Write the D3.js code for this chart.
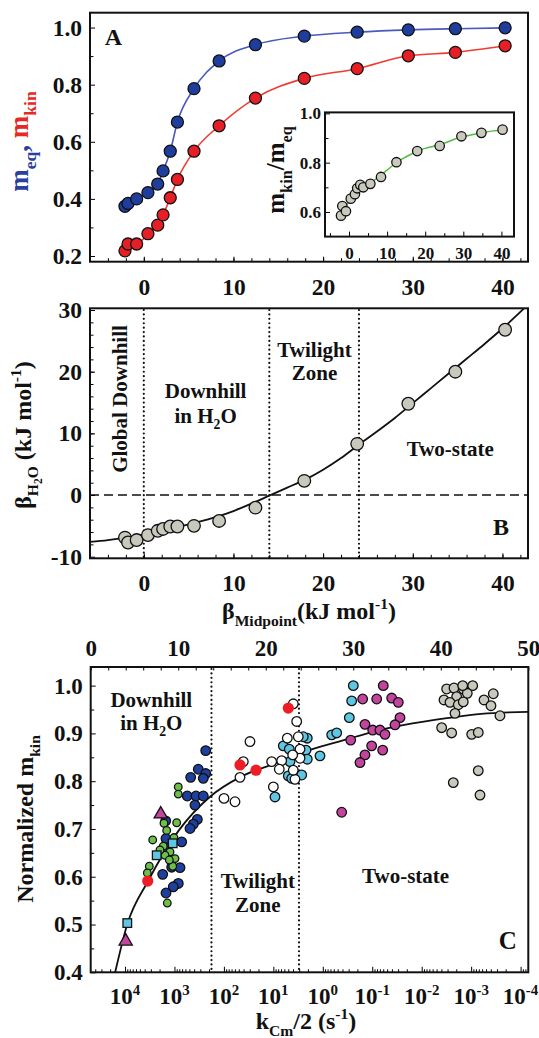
<!DOCTYPE html>
<html>
<head>
<meta charset="utf-8">
<script src="https://cdn.jsdelivr.net/npm/d3@7"></script>
<style>
  body { margin: 0; background: #fff; }
  text { font-family: "Liberation Serif", "Times New Roman", serif; font-weight: bold; fill: #111; }
</style>
</head>
<body>
<script>
// DATA - panel A / B (x = beta midpoint, kJ/mol)
var betaMid = [-2.1, -1.76, -0.8, 0.46, 1.55, 2.15, 2.95, 3.75, 5.6, 8.4, 12.45, 17.9, 23.8, 29.5, 34.75, 40.3];
var mEq = [0.374, 0.384, 0.40, 0.422, 0.452, 0.498, 0.567, 0.669, 0.786, 0.883, 0.94, 0.97, 0.984, 0.992, 0.996, 0.999];
var mKin = [0.218, 0.242, 0.242, 0.278, 0.308, 0.344, 0.404, 0.468, 0.567, 0.656, 0.753, 0.822, 0.856, 0.901, 0.913, 0.936];
var mRatio = [0.585, 0.624, 0.603, 0.654, 0.672, 0.696, 0.71, 0.70, 0.714, 0.742, 0.802, 0.847, 0.868, 0.907, 0.921, 0.934];
var ratioFitX = [-1.5, 0, 2, 4, 6, 8, 10, 12, 14, 16, 18, 20, 22, 24, 26, 28, 30, 32, 34, 36, 38, 40.5];
var ratioFitY = [0.615, 0.64, 0.675, 0.70, 0.722, 0.745, 0.77, 0.795, 0.815, 0.832, 0.847, 0.858, 0.866, 0.874, 0.885, 0.897, 0.905, 0.912, 0.918, 0.924, 0.929, 0.934];
var betaH2O = [-6.9, -7.7, -7.3, -6.5, -5.8, -5.5, -5.1, -5.1, -5.0, -4.2, -2.05, 2.3, 8.3, 14.8, 20.0, 26.8];
var fitBX = [-6, -4, -2, 0, 2, 4, 6, 8, 10, 12, 14, 16, 18, 20, 22, 24, 26, 28, 30, 32, 34, 36, 38, 40, 42, 43];
var fitBY = [-7.6, -7.3, -6.9, -6.4, -5.8, -5.1, -4.4, -3.6, -2.6, -1.4, -0.1, 1.2, 2.5, 4.1, 6.0, 8.2, 10.3, 12.5, 14.9, 17.3, 19.7, 22.1, 24.5, 27.0, 29.7, 31.1];
var zoneB = [0, 14, 24];

// DATA - panel C (x = log10 of kCm/2, y = normalized m_kin)
var zoneC = [13.8, 23.8];
var blueLogK = [2.368, 2.518, 2.368, 2.672, 2.417, 2.741, 2.565, 2.417, 2.585, 2.538, 2.619, 2.686, 3.177, 3.171, 2.854, 3.191, 3.056, 2.888, 3.238, 2.923, 3.024, 3.171];
var blueM = [0.864, 0.825, 0.816, 0.808, 0.806, 0.769, 0.769, 0.769, 0.750, 0.720, 0.710, 0.701, 0.717, 0.680, 0.673, 0.661, 0.620, 0.619, 0.605, 0.586, 0.579, 0.566];
var greenLogK = [2.923, 2.923, 2.955, 3.212, 3.440, 3.226, 3.010, 3.090, 2.989, 3.191, 3.036, 3.509, 3.549, 3.145, 3.293, 3.104, 3.157];
var greenM = [0.788, 0.773, 0.713, 0.712, 0.677, 0.664, 0.682, 0.652, 0.638, 0.645, 0.622, 0.622, 0.608, 0.545, 0.656, 0.635, 0.697];
var cyanLogK = [0.799, 0.678, 0.314, 0.340, 0.314, 0.427, 0.698, 0.664, 0.967, 0.629, 0.057, -0.180, -0.281, -0.536, -0.584, -0.617, 0.395];
var cyanM = [0.874, 0.867, 0.890, 0.865, 0.846, 0.813, 0.811, 0.841, 0.767, 0.806, 0.853, 0.897, 0.901, 0.933, 0.968, 1.0, 0.893];
var whiteLogK = [0.597, 0.528, 1.473, 1.608, 1.675, 1.998, 1.776, 1.034, 0.832, 0.880, 0.718, 0.496, 0.461, 0.461, 0.609, 1.0, 0.563, 0.597];
var whiteM = [0.962, 0.925, 0.883, 0.841, 0.808, 0.764, 0.757, 0.841, 0.843, 0.825, 0.890, 0.893, 0.867, 0.848, 0.855, 0.788, 0.804, 0.823];
var magLogK = [-1.223, -0.806, -1.09, -1.393, -1.527, -1.561, -1.460, -0.853, -1.009, -1.156, -1.257, -0.564, -0.988, -1.211, -0.853, -0.752, -0.382];
var magM = [1.0, 0.972, 0.972, 0.974, 0.965, 0.933, 0.918, 0.919, 0.907, 0.907, 0.898, 0.886, 0.874, 0.865, 0.855, 0.839, 0.735];
var grayLogK = [-2.505, -2.653, -2.841, -3.031, -2.922, -2.707, -2.451, -2.572, -2.740, -2.841, -2.673, -3.260, -3.448, -3.401, -3.583, -2.404, -2.606, -3.011, -3.144, -3.144, -2.639, -3.179, -2.829];
var grayM = [0.993, 0.995, 0.993, 1.0, 0.984, 0.977, 0.970, 0.965, 0.960, 0.966, 0.942, 0.970, 0.983, 0.958, 0.937, 0.912, 0.901, 0.898, 0.902, 0.822, 0.797, 0.771, 1.0];
var squareLogK = [3.036, 3.359, 3.954];
var squareM = [0.670, 0.645, 0.503];
var triLogK = [3.278, 3.986];
var triM = [0.731, 0.465];
var redLogK = [3.541, 1.675, 1.351, 0.698];
var redM = [0.591, 0.834, 0.823, 0.953];
var fitCLogK = [4.199, 3.956, 3.539, 2.912, 2.287, 1.663, 0.967, 0.271, -0.424, -1.116, -1.814, -2.509, -3.205, -4.156];
var fitCM = [0.40, 0.5, 0.59, 0.697, 0.767, 0.809, 0.837, 0.865, 0.886, 0.906, 0.921, 0.932, 0.941, 0.945];
var logDecades = [4, 3, 2, 1, 0, -1, -2, -3, -4];

var svg = d3.select('body').append('svg').attr('width', 539).attr('height', 1038);

// helpers
function rich(t, parts, fs) {
  var cur = 0;
  parts.forEach(function(p) {
    var off = (p.o || 0) * fs;
    t.append('tspan').attr('dy', off - cur).style('font-size', ((p.s || 1) * fs) + 'px')
      .style('fill', p.c || null).text(p.t);
    cur = off;
  });
  return t;
}
function zip(a, b) { return a.map(function(d, i) { return [d, b[i]]; }); }
function frame(x0, x1, y0, y1) {
  svg.append('rect').attr('x', x0).attr('y', y0).attr('width', x1 - x0).attr('height', y1 - y0)
    .attr('fill', 'none').attr('stroke', '#111').attr('stroke-width', 2);
}
function clip(id, x0, x1, y0, y1) {
  svg.append('clipPath').attr('id', id).append('rect')
    .attr('x', x0).attr('y', y0).attr('width', x1 - x0).attr('height', y1 - y0);
}
function leftAxis(x0, y, major, minor, fmt, fs, pad) {
  svg.append('g').attr('transform', 'translate(' + x0 + ',0)')
    .call(d3.axisLeft(y).tickValues(minor).tickSize(-3.5).tickFormat(''))
    .call(function(g) { g.select('.domain').remove(); });
  svg.append('g').attr('transform', 'translate(' + x0 + ',0)')
    .call(d3.axisLeft(y).tickValues(major).tickSize(-5).tickPadding(pad).tickFormat(fmt))
    .call(function(g) { g.select('.domain').remove(); })
    .selectAll('text').style('font-size', fs + 'px');
}
function bottomAxis(y0, x, major, minor, fmt, fs, pad) {
  svg.append('g').attr('transform', 'translate(0,' + y0 + ')')
    .call(d3.axisBottom(x).tickValues(minor).tickSize(-3.5).tickFormat(''))
    .call(function(g) { g.select('.domain').remove(); });
  svg.append('g').attr('transform', 'translate(0,' + y0 + ')')
    .call(d3.axisBottom(x).tickValues(major).tickSize(-5).tickPadding(pad).tickFormat(fmt))
    .call(function(g) { g.select('.domain').remove(); })
    .selectAll('text').style('font-size', fs + 'px');
}
function dots(data, x, y, r, fill, clipId) {
  svg.append('g').attr('clip-path', clipId ? 'url(#' + clipId + ')' : null)
    .selectAll('circle').data(data).enter().append('circle')
    .attr('cx', function(d) { return x(d[0]); })
    .attr('cy', function(d) { return y(d[1]); })
    .attr('r', r).attr('fill', fill).attr('stroke', '#111').attr('stroke-width', 1.3);
}
function fmtNum(d) { return d < 0 ? '-' + (-d) : String(d); }
var dotted = '0.01,4.4';

// ---------------- PANEL A ----------------
var xA = d3.scaleLinear().domain([-6, 42.85]).range([90, 528]);
var yA = d3.scaleLinear().domain([0.18, 1.052]).range([261.7, 12.7]);
clip('clipA', 90, 528, 12.7, 261.7);

var lineA = d3.line().x(function(d) { return xA(d[0]); }).y(function(d) { return yA(d[1]); }).curve(d3.curveMonotoneX);
svg.append('path').datum(zip(betaMid, mEq)).attr('d', lineA).attr('fill', 'none').attr('stroke', '#4a5ab8').attr('stroke-width', 1.6);
svg.append('path').datum(zip(betaMid, mKin)).attr('d', lineA).attr('fill', 'none').attr('stroke', '#ef3b30').attr('stroke-width', 1.6);
dots(zip(betaMid, mEq), xA, yA, 6, '#1f3d9c');
dots(zip(betaMid, mKin), xA, yA, 6, '#e51f25');

leftAxis(90, yA, [0.2, 0.4, 0.6, 0.8, 1.0], [0.3, 0.5, 0.7, 0.9], d3.format('.1f'), 23.5, 8);
bottomAxis(261.7, xA, [0, 10, 20, 30, 40], d3.range(-4, 43, 2), fmtNum, 23.5, 16.5);
frame(90, 528, 12.7, 261.7);
svg.append('text').attr('x', 113.5).attr('y', 45).attr('text-anchor', 'middle').style('font-size', '24px').text('A');
rich(svg.append('text').attr('text-anchor', 'middle').attr('transform', 'translate(28,141.5) rotate(-90)'), [
  { t: 'm', c: '#2a3f9e' }, { t: 'eq', o: 0.3, s: 0.65, c: '#2a3f9e' }, { t: ', ', c: '#2a3f9e' },
  { t: 'm', c: '#e52a24' }, { t: 'kin', o: 0.3, s: 0.65, c: '#e52a24' }], 27);

// inset
var xI = d3.scaleLinear().domain([-6.3, 43.3]).range([325, 514]);
var yI = d3.scaleLinear().domain([0.5, 1.004]).range([236.6, 112.4]);
var lineI = d3.line().x(function(d) { return xI(d[0]); }).y(function(d) { return yI(d[1]); }).curve(d3.curveMonotoneX);
svg.append('path').datum(zip(ratioFitX, ratioFitY)).attr('d', lineI).attr('fill', 'none').attr('stroke', '#55bb45').attr('stroke-width', 1.5);
dots(zip(betaMid, mRatio), xI, yI, 4.7, '#c9c9bd');
leftAxis(325, yI, [0.6, 0.8, 1.0], [0.7, 0.9], d3.format('.1f'), 17, 4);
bottomAxis(236.6, xI, [0, 10, 20, 30, 40], [-5, 5, 15, 25, 35], fmtNum, 17, 10.5);
frame(325, 514, 112.4, 236.6);
rich(svg.append('text').attr('text-anchor', 'middle').attr('transform', 'translate(284,170) rotate(-90)'), [
  { t: 'm' }, { t: 'kin', o: 0.3, s: 0.65 }, { t: '/m' }, { t: 'eq', o: 0.3, s: 0.65 }], 25);

// ---------------- PANEL B ----------------
var xB = d3.scaleLinear().domain([-6, 42.85]).range([90, 528]);
var yB = d3.scaleLinear().domain([-10.26, 30.28]).range([558.3, 308.3]);
clip('clipB', 90, 528, 308.3, 558.3);

svg.append('line').attr('x1', 90).attr('x2', 528).attr('y1', yB(0)).attr('y2', yB(0))
  .attr('stroke', '#111').attr('stroke-width', 1.5).attr('stroke-dasharray', '9,5');
svg.append('g').selectAll('line').data(zoneB).enter().append('line')
  .attr('x1', function(d) { return xB(d); }).attr('x2', function(d) { return xB(d); })
  .attr('y1', 310).attr('y2', 557)
  .attr('stroke', '#111').attr('stroke-width', 2.2).attr('stroke-linecap', 'round').attr('stroke-dasharray', dotted);
var lineB = d3.line().x(function(d) { return xB(d[0]); }).y(function(d) { return yB(d[1]); }).curve(d3.curveMonotoneX);
svg.append('path').datum(zip(fitBX, fitBY)).attr('d', lineB).attr('clip-path', 'url(#clipB)')
  .attr('fill', 'none').attr('stroke', '#111').attr('stroke-width', 1.8);
dots(zip(betaMid, betaH2O), xB, yB, 6.3, '#c8c8bc');

leftAxis(90, yB, [-10, 0, 10, 20, 30], d3.range(-8, 30, 2), fmtNum, 23.5, 8);
bottomAxis(558.3, xB, [0, 10, 20, 30, 40], d3.range(-4, 43, 2), fmtNum, 23.5, 16.5);
frame(90, 528, 308.3, 558.3);

svg.append('text').attr('text-anchor', 'middle').attr('transform', 'translate(127,399) rotate(-90)')
  .style('font-size', '21px').text('Global Downhill');
svg.append('text').attr('x', 205.6).attr('y', 398).attr('text-anchor', 'middle').style('font-size', '21px').text('Downhill');
rich(svg.append('text').attr('x', 205.6).attr('y', 423).attr('text-anchor', 'middle'), [
  { t: 'in H' }, { t: '2', o: 0.3, s: 0.65 }, { t: 'O' }], 21);
svg.append('text').attr('x', 314.5).attr('y', 356.5).attr('text-anchor', 'middle').style('font-size', '21px').text('Twilight');
svg.append('text').attr('x', 314.5).attr('y', 379.5).attr('text-anchor', 'middle').style('font-size', '21px').text('Zone');
svg.append('text').attr('x', 450.3).attr('y', 455.5).attr('text-anchor', 'middle').style('font-size', '21px').text('Two-state');
svg.append('text').attr('x', 501).attr('y', 535).attr('text-anchor', 'middle').style('font-size', '24px').text('B');

rich(svg.append('text').attr('text-anchor', 'middle').attr('transform', 'translate(31,435) rotate(-90)'), [
  { t: 'β' }, { t: 'H', o: 0.3, s: 0.65 }, { t: '2', o: 0.45, s: 0.48 }, { t: 'O', o: 0.3, s: 0.65 },
  { t: ' (kJ mol' }, { t: '-1', o: -0.4, s: 0.65 }, { t: ')' }], 24);
rich(svg.append('text').attr('x', 309).attr('y', 619).attr('text-anchor', 'middle'), [
  { t: 'β' }, { t: 'Midpoint', o: 0.3, s: 0.65 }, { t: '(kJ mol' }, { t: '-1', o: -0.4, s: 0.65 }, { t: ')' }], 24);

// ---------------- PANEL C ----------------
var xC = d3.scaleLog().domain([Math.pow(10, 4.694), Math.pow(10, -4.156)]).range([90.7, 528.3]);
var xTop = d3.scaleLinear().domain([0, 50]).range([90.7, 528.3]);
var yC = d3.scaleLinear().domain([0.4, 1.039]).range([972.3, 667]);
clip('clipC', 90.7, 528.3, 667, 972.3);
function kPts(lk, m) { return lk.map(function(d, i) { return [Math.pow(10, d), m[i]]; }); }

svg.append('g').selectAll('line').data(zoneC).enter().append('line')
  .attr('x1', function(d) { return xTop(d); }).attr('x2', function(d) { return xTop(d); })
  .attr('y1', 669).attr('y2', 971)
  .attr('stroke', '#111').attr('stroke-width', 2.2).attr('stroke-linecap', 'round').attr('stroke-dasharray', dotted);

var lineC = d3.line().x(function(d) { return xC(d[0]); }).y(function(d) { return yC(d[1]); }).curve(d3.curveMonotoneX);
svg.append('path').datum(kPts(fitCLogK, fitCM)).attr('d', lineC).attr('clip-path', 'url(#clipC)')
  .attr('fill', 'none').attr('stroke', '#111').attr('stroke-width', 1.8);

dots(kPts(blueLogK, blueM), xC, yC, 4.8, '#1f3f9e', 'clipC');
dots(kPts(greenLogK, greenM), xC, yC, 3.8, '#6cc04a', 'clipC');
dots(kPts(cyanLogK, cyanM), xC, yC, 4.8, '#5ec6e2', 'clipC');
dots(kPts(whiteLogK, whiteM), xC, yC, 4.8, '#ffffff', 'clipC');
dots(kPts(magLogK, magM), xC, yC, 4.8, '#c2449e', 'clipC');
dots(kPts(grayLogK, grayM), xC, yC, 4.8, '#c8c8bc', 'clipC');

svg.append('g').selectAll('rect').data(kPts(squareLogK, squareM)).enter().append('rect')
  .attr('x', function(d) { return xC(d[0]) - 4.3; }).attr('y', function(d) { return yC(d[1]) - 4.3; })
  .attr('width', 8.6).attr('height', 8.6).attr('fill', '#5ec6e2').attr('stroke', '#111').attr('stroke-width', 1.3);
svg.append('g').selectAll('path').data(kPts(triLogK, triM)).enter().append('path')
  .attr('transform', function(d) { return 'translate(' + xC(d[0]) + ',' + yC(d[1]) + ')'; })
  .attr('d', d3.symbol().type(d3.symbolTriangle).size(75))
  .attr('fill', '#c2449e').attr('stroke', '#111').attr('stroke-width', 1.3);
svg.append('g').selectAll('circle').data(kPts(redLogK, redM)).enter().append('circle')
  .attr('cx', function(d) { return xC(d[0]); }).attr('cy', function(d) { return yC(d[1]); })
  .attr('r', 5.6).attr('fill', '#ee1c24');

// C axes
leftAxis(90.7, yC, [0.4, 0.5, 0.6, 0.7, 0.8, 0.9, 1.0], d3.range(0.45, 1.03, 0.1), d3.format('.1f'), 23, 8);
svg.append('g').attr('transform', 'translate(0,667)')
  .call(d3.axisTop(xTop).tickValues(d3.range(0, 51, 2)).tickSize(-3.5).tickFormat(''))
  .call(function(g) { g.select('.domain').remove(); });
svg.append('g').attr('transform', 'translate(0,667)')
  .call(d3.axisTop(xTop).tickValues([0, 10, 20, 30, 40, 50]).tickSize(0).tickPadding(11).tickFormat(fmtNum))
  .call(function(g) { g.select('.domain').remove(); })
  .selectAll('text').style('font-size', '23px');

var minorK = [];
d3.range(-5, 5).forEach(function(e) {
  d3.range(2, 10).forEach(function(m) { minorK.push(m * Math.pow(10, e)); });
});
minorK = minorK.filter(function(k) { return xC(k) > 91 && xC(k) < 528; });
var majorK = logDecades.map(function(e) { return Math.pow(10, e); });
svg.append('g').attr('transform', 'translate(0,972.3)')
  .call(d3.axisBottom(xC).tickValues(minorK).tickSize(-3).tickFormat(''))
  .call(function(g) { g.select('.domain').remove(); });
svg.append('g').attr('transform', 'translate(0,972.3)')
  .call(d3.axisBottom(xC).tickValues(majorK).tickSize(-5.5).tickFormat(''))
  .call(function(g) { g.select('.domain').remove(); });
logDecades.forEach(function(e) {
  rich(svg.append('text').attr('x', xC(Math.pow(10, e))).attr('y', 1004).attr('text-anchor', 'middle'), [
    { t: '10' }, { t: fmtNum(e), o: -0.4, s: 0.65 }], 23);
});
frame(90.7, 528.3, 667, 972.3);

svg.append('text').attr('x', 151.3).attr('y', 706.5).attr('text-anchor', 'middle').style('font-size', '21px').text('Downhill');
rich(svg.append('text').attr('x', 151.3).attr('y', 730).attr('text-anchor', 'middle'), [
  { t: 'in H' }, { t: '2', o: 0.3, s: 0.65 }, { t: 'O' }], 21);
svg.append('text').attr('x', 257.8).attr('y', 888).attr('text-anchor', 'middle').style('font-size', '21px').text('Twilight');
svg.append('text').attr('x', 257.8).attr('y', 911.5).attr('text-anchor', 'middle').style('font-size', '21px').text('Zone');
svg.append('text').attr('x', 405.6).attr('y', 883).attr('text-anchor', 'middle').style('font-size', '21px').text('Two-state');
svg.append('text').attr('x', 507.7).attr('y', 949).attr('text-anchor', 'middle').style('font-size', '25px').text('C');

rich(svg.append('text').attr('text-anchor', 'middle').attr('transform', 'translate(32.5,819) rotate(-90)'), [
  { t: 'Normalized m' }, { t: 'kin', o: 0.3, s: 0.65 }], 24);
rich(svg.append('text').attr('x', 306).attr('y', 1029).attr('text-anchor', 'middle'), [
  { t: 'k' }, { t: 'Cm', o: 0.3, s: 0.65 }, { t: '/2 (s' }, { t: '-1', o: -0.4, s: 0.65 }, { t: ')' }], 24);
</script>
</body>
</html>
